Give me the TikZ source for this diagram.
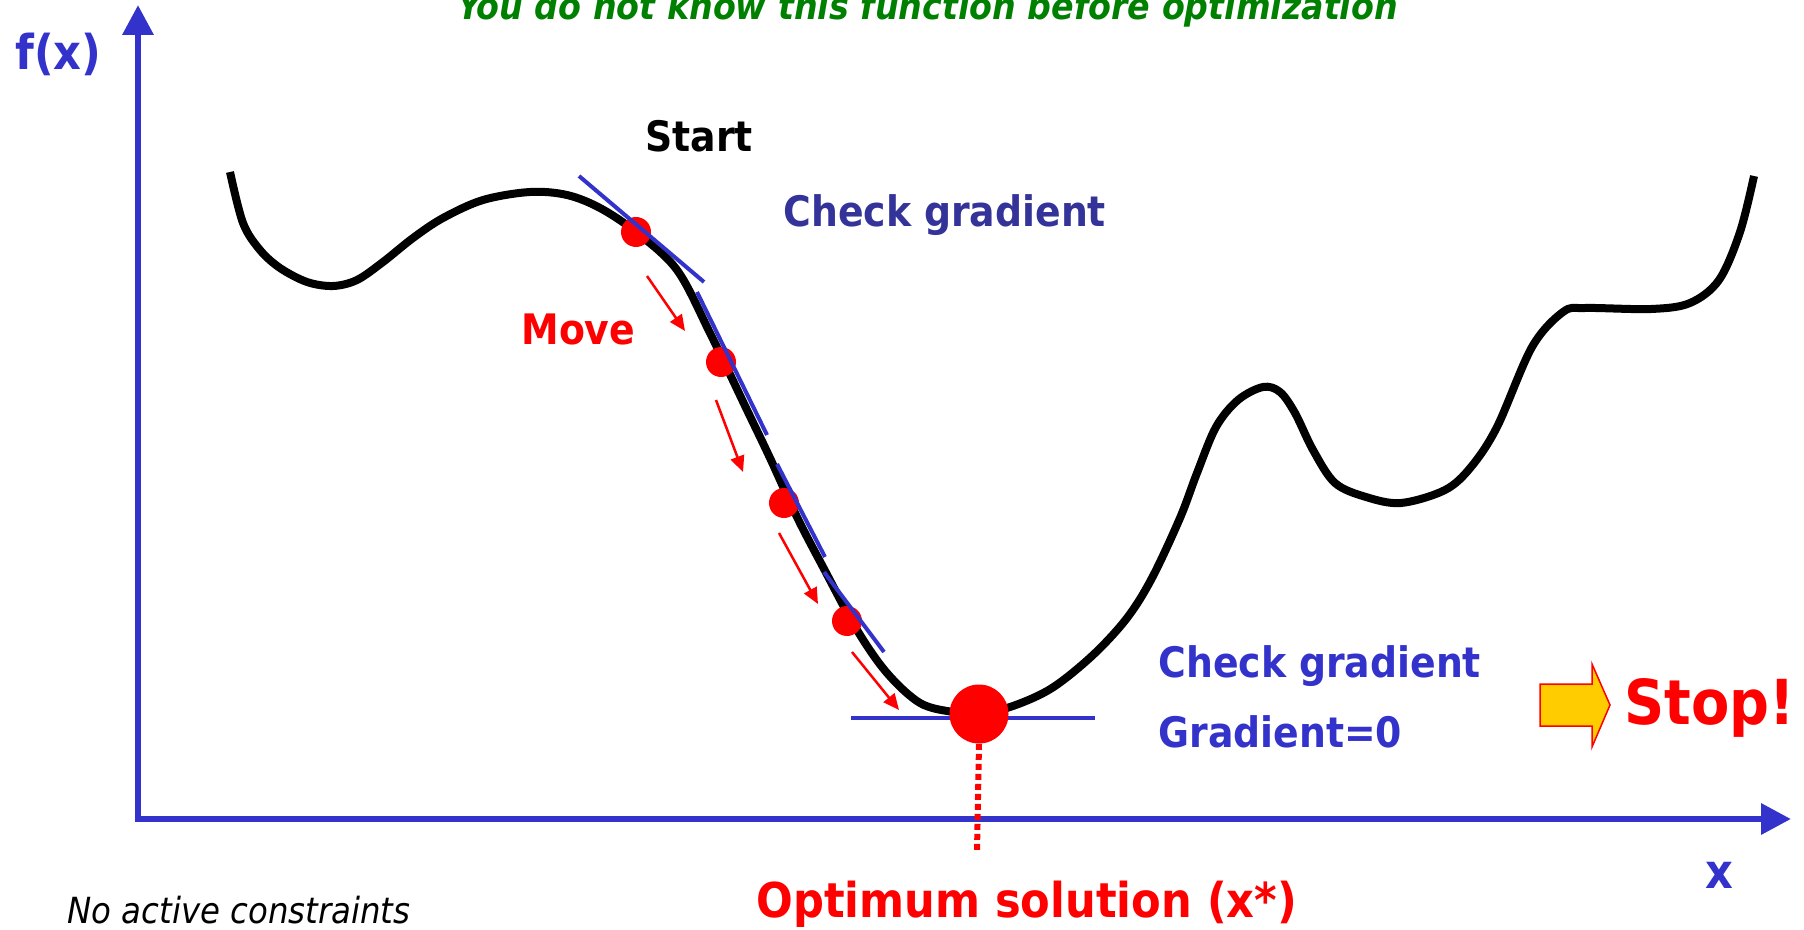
\documentclass[tikz,border=0pt]{standalone}
\usepackage{fontspec}
\setmainfont{DejaVu Sans Condensed}
\usetikzlibrary{arrows.meta}
\definecolor{axisblue}{HTML}{3333CC}
\definecolor{navyblue}{HTML}{333399}
\definecolor{ggreen}{HTML}{008000}
\definecolor{ayellow}{HTML}{FFCC00}
\begin{document}
\begin{tikzpicture}[x=0.5pt,y=-0.5pt,
  lbl/.style={anchor=base west, inner sep=0pt, font=\bfseries},
  axisline/.style={draw=axisblue, line width=3.25pt, -{Triangle[length=15pt,width=15pt]}},
  curveline/.style={line width=4pt, line join=round, line cap=butt},
  tangent/.style={draw=axisblue, line width=2pt},
  movearrow/.style={draw=red, line width=1.25pt, -{Triangle[length=8pt,width=7pt]}},
  ball/.style={circle, fill=red, minimum size=15pt, inner sep=0pt},
  bigball/.style={circle, fill=red, minimum size=29.5pt, inner sep=0pt},
  dropline/.style={draw=red, line width=3pt, dash pattern=on 3pt off 2pt}]
\useasboundingbox (0,0) rectangle (1804,930);
% axes
\coordinate (O) at (138,819);
\coordinate (ytip) at (138,5);
\coordinate (xtip) at (1791,819);
\draw[axisline] (138,822) -- (ytip);
\draw[axisline] (135,819) -- (xtip);
% curve
\draw[curveline] plot[smooth, tension=0.55] coordinates {
 (230,172) (243,223) (260,250) (280,268) (307,282) (333,286) (357,280)
 (383,262) (413,238) (443,218) (483,200) (530,192) (567,195) (600,208)
 (636,232) (677,270) (710,333) (747,410) (770,458) (797,517) (823,567)
 (857,630) (887,673) (920,703) (953,712) (979,714) (1013,706) (1052,688)
 (1093,655) (1127,618) (1152,578) (1180,518) (1197,473) (1216,427)
 (1238,400) (1263,387) (1280,392) (1295,413) (1313,450) (1335,483)
 (1366,497) (1401,503) (1445,490) (1471,467) (1497,427) (1532,347)
 (1563,312) (1585,308) (1651,309) (1690,303) (1719,280) (1740,232) (1754,176)};
% balls
\node[ball] (b1) at (636,232) {};
\node[ball] (b2) at (721,362) {};
\node[ball] (b3) at (784,503) {};
\node[ball] (b4) at (847,621) {};
% tangent lines
\coordinate (t1a) at (579,176); \coordinate (t1b) at (704,282);
\coordinate (t2a) at (697,292); \coordinate (t2b) at (767,435);
\coordinate (t3a) at (777,464); \coordinate (t3b) at (825,557);
\coordinate (t4a) at (824,572); \coordinate (t4b) at (884,652);
\coordinate (t5a) at (851,718); \coordinate (t5b) at (1095,718);
\draw[tangent] (t1a) -- (t1b);
\draw[tangent] (t2a) -- (t2b);
\draw[tangent] (t3a) -- (t3b);
\draw[tangent] (t4a) -- (t4b);
\draw[tangent] (t5a) -- (t5b);
% optimum
\node[bigball] (opt) at (979,714) {};
\coordinate (drop) at (977,851);
\draw[dropline] (opt.south) -- (drop);
% move arrows
\coordinate (m1a) at (647,276); \coordinate (m1b) at (685,331);
\coordinate (m2a) at (716,400); \coordinate (m2b) at (743,472);
\coordinate (m3a) at (779,533); \coordinate (m3b) at (818,604);
\coordinate (m4a) at (852,652); \coordinate (m4b) at (899,710);
\draw[movearrow] (m1a) -- (m1b);
\draw[movearrow] (m2a) -- (m2b);
\draw[movearrow] (m3a) -- (m3b);
\draw[movearrow] (m4a) -- (m4b);
% stop arrow
\draw[fill=ayellow, draw=red, line width=0.75pt, line join=miter]
  (1540,684) -- (1592,684) -- (1592,664) -- (1610,705) -- (1592,747) -- (1592,726) -- (1540,726) -- cycle;
% labels
\node[lbl, text=axisblue, font=\bfseries\fontsize{24pt}{28pt}\selectfont] (fx) at (15,70) {f(x)};
\node[lbl, text=axisblue, font=\bfseries\fontsize{24pt}{28pt}\selectfont] (xl) at (1705,888) {x};
\node[lbl, text=ggreen, font=\bfseries\itshape\fontsize{18.5pt}{22pt}\selectfont] (top) at (457,20) {You do not know this function before optimization};
\node[lbl, text=black, font=\bfseries\fontsize{21pt}{25pt}\selectfont] (start) at (645,152) {Start};
\node[lbl, text=navyblue, font=\bfseries\fontsize{21pt}{25pt}\selectfont] (cg1) at (783,227) {Check gradient};
\node[lbl, text=red, font=\bfseries\fontsize{21pt}{25pt}\selectfont] (move) at (521,345) {Move};
\node[lbl, text=axisblue, font=\bfseries\fontsize{21pt}{25pt}\selectfont] (cg2) at (1158,677) {Check gradient};
\node[lbl, text=axisblue, font=\bfseries\fontsize{21pt}{25pt}\selectfont] (g0) at (1158,747) {Gradient=0};
\node[lbl, text=red, font=\bfseries\fontsize{31pt}{35pt}\selectfont] (stop) at (1624,724) {Stop!};
\node[lbl, text=red, font=\bfseries\fontsize{24pt}{28pt}\selectfont] (optl) at (756,917) {Optimum solution (x*)};
\node[lbl, text=black, font=\itshape\fontsize{18pt}{22pt}\selectfont] (nac) at (67,923) {No active constraints};
\end{tikzpicture}
\end{document}
